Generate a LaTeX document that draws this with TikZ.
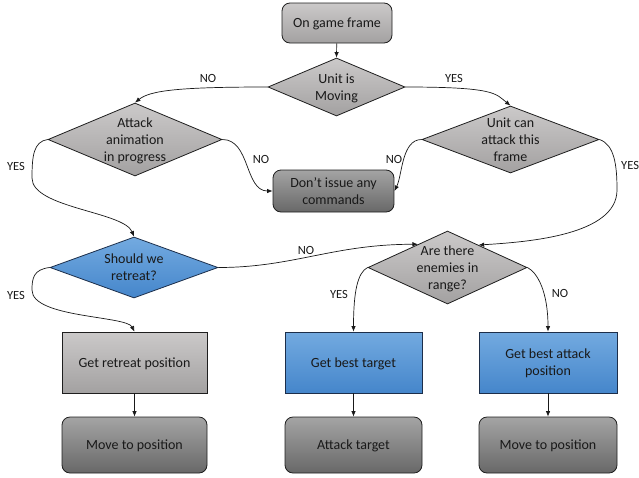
\documentclass[tikz,border=0pt]{standalone}
\usepackage{fontspec}
\setmainfont{Carlito}
\usetikzlibrary{shapes.geometric,arrows.meta,calc}
\definecolor{gltop}{HTML}{CBC9C9}
\definecolor{glbot}{HTML}{A3A1A1}
\definecolor{gdtop}{HTML}{A4A4A4}
\definecolor{gdbot}{HTML}{686868}
\definecolor{bltop}{HTML}{73AAE0}
\definecolor{blbot}{HTML}{4586CB}
\definecolor{edge}{HTML}{1E1E1E}
\definecolor{blueedge}{HTML}{1C2E4A}
\begin{document}
\begin{tikzpicture}[x=1pt,y=1pt,
  lightg/.style={top color=gltop,bottom color=glbot},
  darkg/.style={top color=gdtop,bottom color=gdbot},
  bluef/.style={top color=bltop,bottom color=blbot},
  boxbase/.style={draw=edge,line width=0.8pt,inner sep=0pt,font=\fontsize{14}{17}\selectfont,align=center,text=black!90,text depth=0pt},
  rbox/.style={boxbase,rounded corners=8pt},
  sbox/.style={boxbase},
  dia/.style={diamond,draw=edge,line width=0.8pt,inner sep=0pt},
  txt/.style={font=\fontsize{14}{17}\selectfont,align=center,inner sep=0pt,text=black!90,text depth=0pt},
  lab/.style={font=\fontsize{12.5}{15}\selectfont,inner sep=0pt,text=black!90},
  arr/.style={draw=black!90,line width=0.7pt,-{Latex[length=5.5pt,width=4.5pt]}}]
\useasboundingbox (0,0) rectangle (639,-477);

% nodes
\node[rbox,lightg,minimum width=110pt,minimum height=40pt] (game) at (337,-23) {On game frame};
\node[dia,lightg,minimum width=137pt,minimum height=58pt] (umov) at (336.5,-87) {};
\node[txt] at (umov.center) {Unit is\\Moving};
\node[dia,lightg,minimum width=174pt,minimum height=73pt] (att) at (135,-139.5) {};
\node[txt] at (att.center) {Attack\\animation\\in progress};
\node[dia,lightg,minimum width=177pt,minimum height=67pt] (ucan) at (510.5,-139.5) {};
\node[txt] at (ucan.center) {Unit can\\attack this\\frame};
\node[rbox,darkg,minimum width=121pt,minimum height=42pt] (dont) at (333.5,-191) {Don’t issue any\\commands};
\node[dia,bluef,draw=blueedge,minimum width=168pt,minimum height=61pt] (ret) at (134,-267.5) {};
\node[txt] at (ret.center) {Should we\\retreat?};
\node[dia,lightg,minimum width=159pt,minimum height=73pt] (enem) at (447.5,-267.5) {};
\node[txt] at (enem.center) {Are there\\enemies in\\range?};
\node[sbox,lightg,minimum width=145pt,minimum height=61pt] (rb) at (134.5,-362.5) {Get retreat position};
\node[rbox,darkg,minimum width=145pt,minimum height=56pt] (mv1) at (134.5,-445) {Move to position};
\node[sbox,bluef,draw=blueedge,minimum width=137pt,minimum height=61pt] (gbt) at (353.5,-362.5) {Get best target};
\node[rbox,darkg,minimum width=137pt,minimum height=56pt] (atk) at (353.5,-445) {Attack target};
\node[sbox,bluef,draw=blueedge,minimum width=138pt,minimum height=61pt] (gba) at (548,-362.5) {Get best attack\\position};
\node[rbox,darkg,minimum width=138pt,minimum height=56pt] (mv2) at (548,-445) {Move to position};

\coordinate (enemR) at ($(enem.north)!0.39!(enem.east)$);
\coordinate (enemL) at ($(enem.north)!0.37!(enem.west)$);
\coordinate (loopA) at (32,-178);
\coordinate (loopB) at (32,-290);
\coordinate (loopC) at (617,-190);

% connectors
\draw[arr] (game) -- (umov.north);
\draw[arr] (umov.west) .. controls +(-90,0) and +(15,12) .. (att.north);
\draw[arr] (umov.east) .. controls +(90,0) and +(-15,12) .. (ucan.north);
\draw[arr] (att.east) .. controls +(28,0) and +(-28,0) .. (dont.west);
\draw[arr] (ucan.west) .. controls +(-20,0) and +(8,16) .. (dont.east);
\draw[arr] (att.west) .. controls +(-14,-2) and +(0,22) .. (loopA) .. controls +(0,-30) and +(-10,25) .. (ret.north);
\draw[arr] (ret.west) .. controls +(-16,-2) and +(0,12) .. (loopB) .. controls +(0,-28) and +(-8,16) .. (rb.north);
\draw[arr] (ucan.east) .. controls +(15,-5) and +(0,25) .. (loopC) .. controls +(0,-45) and +(50,3) .. (enemR);
\draw[arr] (ret.east) .. controls +(75,0) and +(-85,0) .. (enemL);
\draw[arr] (enem.west) .. controls +(-10,-5) and +(0,40) .. (gbt.north);
\draw[arr] (enem.east) .. controls +(10,-5) and +(0,40) .. (gba.north);
\draw[arr] (rb) -- (mv1);
\draw[arr] (gbt) -- (atk);
\draw[arr] (gba) -- (mv2);

% labels
\node[lab] (l1) at (208,-78) {NO};
\node[lab] (l2) at (454,-78) {YES};
\node[lab] (l3) at (16,-166) {YES};
\node[lab] (l4) at (261,-159) {NO};
\node[lab] (l5) at (394,-159) {NO};
\node[lab,anchor=west] (l6) at (621,-165) {YES};
\node[lab] (l7) at (306,-250) {NO};
\node[lab] (l8) at (16,-295) {YES};
\node[lab] (l9) at (339,-294) {YES};
\node[lab] (l10) at (560,-293) {NO};
\end{tikzpicture}
\end{document}
